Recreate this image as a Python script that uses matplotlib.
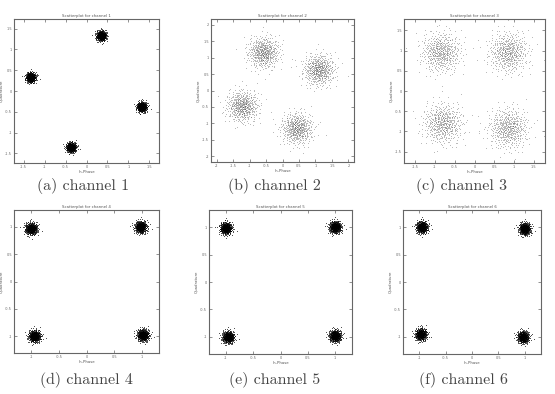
import numpy as np
import matplotlib
matplotlib.use("Agg")
import matplotlib.pyplot as plt

plt.rcParams["axes.unicode_minus"] = False

# ---- data ----
channels = ["channel 1", "channel 2", "channel 3", "channel 4", "channel 5", "channel 6"]
captions = ["(a) channel 1", "(b) channel 2", "(c) channel 3",
            "(d) channel 4", "(e) channel 5", "(f) channel 6"]
centers_ch1 = [(0.35, 1.33), (-1.33, 0.33), (1.32, -0.38), (-0.37, -1.35)]
centers_ch2 = [(-0.58, 1.16), (1.10, 0.63), (-1.22, -0.47), (0.44, -1.15)]
centers_ch3 = [(-0.85, 0.96), (0.85, 0.96), (-0.80, -0.80), (0.85, -0.92)]
centers_ch4 = [(-1.00, 0.97), (0.98, 1.00), (-0.94, -1.00), (1.02, -0.98)]
centers_ch5 = [(-1.00, 0.98), (1.00, 1.00), (-0.96, -1.00), (1.00, -0.98)]
centers_ch6 = [(-0.95, 1.00), (1.00, 0.97), (-0.97, -0.95), (0.97, -1.00)]
spread = [0.06, 0.24, 0.25, 0.055, 0.055, 0.055]
points_per_cluster = [500, 500, 500, 500, 500, 500]
xticks_ch = [[-1.5, -1, -0.5, 0, 0.5, 1, 1.5],
             [-2, -1.5, -1, -0.5, 0, 0.5, 1, 1.5, 2],
             [-1.5, -1, -0.5, 0, 0.5, 1, 1.5],
             [-1, -0.5, 0, 0.5, 1], [-1, -0.5, 0, 0.5, 1], [-1, -0.5, 0, 0.5, 1]]
limits = [1.73, 2.17, 1.78, 1.31, 1.31, 1.31]
all_centers = [centers_ch1, centers_ch2, centers_ch3, centers_ch4, centers_ch5, centers_ch6]

# ---- layout (pixels: left, top, right, bottom) ----
W, H = 555, 394
boxes = [(14, 19, 159, 163), (211, 19, 354, 162), (404, 19, 545, 163),
         (14, 210, 159, 353), (209, 210, 352, 354), (403, 210, 541, 354)]
cap_pos = [(83, 186), (274, 186), (462, 186), (86, 380), (275, 380), (463, 380)]


def halton(n, base):
    seq = np.zeros(n)
    for i in range(n):
        f, r, k = 1.0, 0.0, i + 1
        while k > 0:
            f /= base
            r += f * (k % base)
            k //= base
        seq[i] = r
    return seq


def cloud(n, offset):
    # deterministic gaussian-like cloud (Halton + Box-Muller)
    u1 = halton(n + offset, 2)[offset:]
    u2 = halton(n + offset, 3)[offset:]
    u1 = np.clip(u1, 1e-6, 1)
    r = np.sqrt(-2 * np.log(u1))
    return r * np.cos(2 * np.pi * u2), r * np.sin(2 * np.pi * u2)


fig = plt.figure(figsize=(W / 100, H / 100), dpi=100)
edge = "#666666"
for i in range(6):
    l, t, r, b = boxes[i]
    ax = fig.add_axes([l / W, 1 - b / H, (r - l) / W, (b - t) / H])
    n = points_per_cluster[i]
    dense = spread[i] < 0.1
    for j, (cx, cy) in enumerate(all_centers[i]):
        dx, dy = cloud(n, 7 + j * 131 + i * 17)
        ax.scatter(cx + spread[i] * dx, cy + spread[i] * dy,
                   s=1.2 if dense else 0.8,
                   c="black" if dense else "#333333", marker=".", linewidths=0,
                   alpha=0.95 if dense else 0.6)
    L = limits[i]
    ax.set_xlim(-L, L)
    ax.set_ylim(-L, L)
    ax.set_xticks(xticks_ch[i])
    ax.set_yticks(xticks_ch[i])
    ax.set_xticklabels([("%g" % v) for v in xticks_ch[i]])
    ax.set_yticklabels([("%g" % v) for v in xticks_ch[i]])
    ax.tick_params(direction="in", length=2, width=0.5, labelsize=2.5,
                   colors=edge, top=True, right=True, pad=1.5)
    for s in ax.spines.values():
        s.set_color(edge)
        s.set_linewidth(0.8)
    ax.set_title("Scatterplot for " + channels[i], fontsize=2.8, pad=1.5, color="#555555")
    ax.set_xlabel("In-Phase", fontsize=2.8, labelpad=0.5, color="#555555")
    ax.set_ylabel("Quadrature", fontsize=2.8, labelpad=1, color="#555555")
    cx_, cy_ = cap_pos[i]
    fig.text(cx_ / W, 1 - cy_ / H, captions[i], ha="center", va="center",
             fontsize=11.5, family="cmr10", color="#444444")

fig.savefig("out.png", dpi=100, facecolor="white")
